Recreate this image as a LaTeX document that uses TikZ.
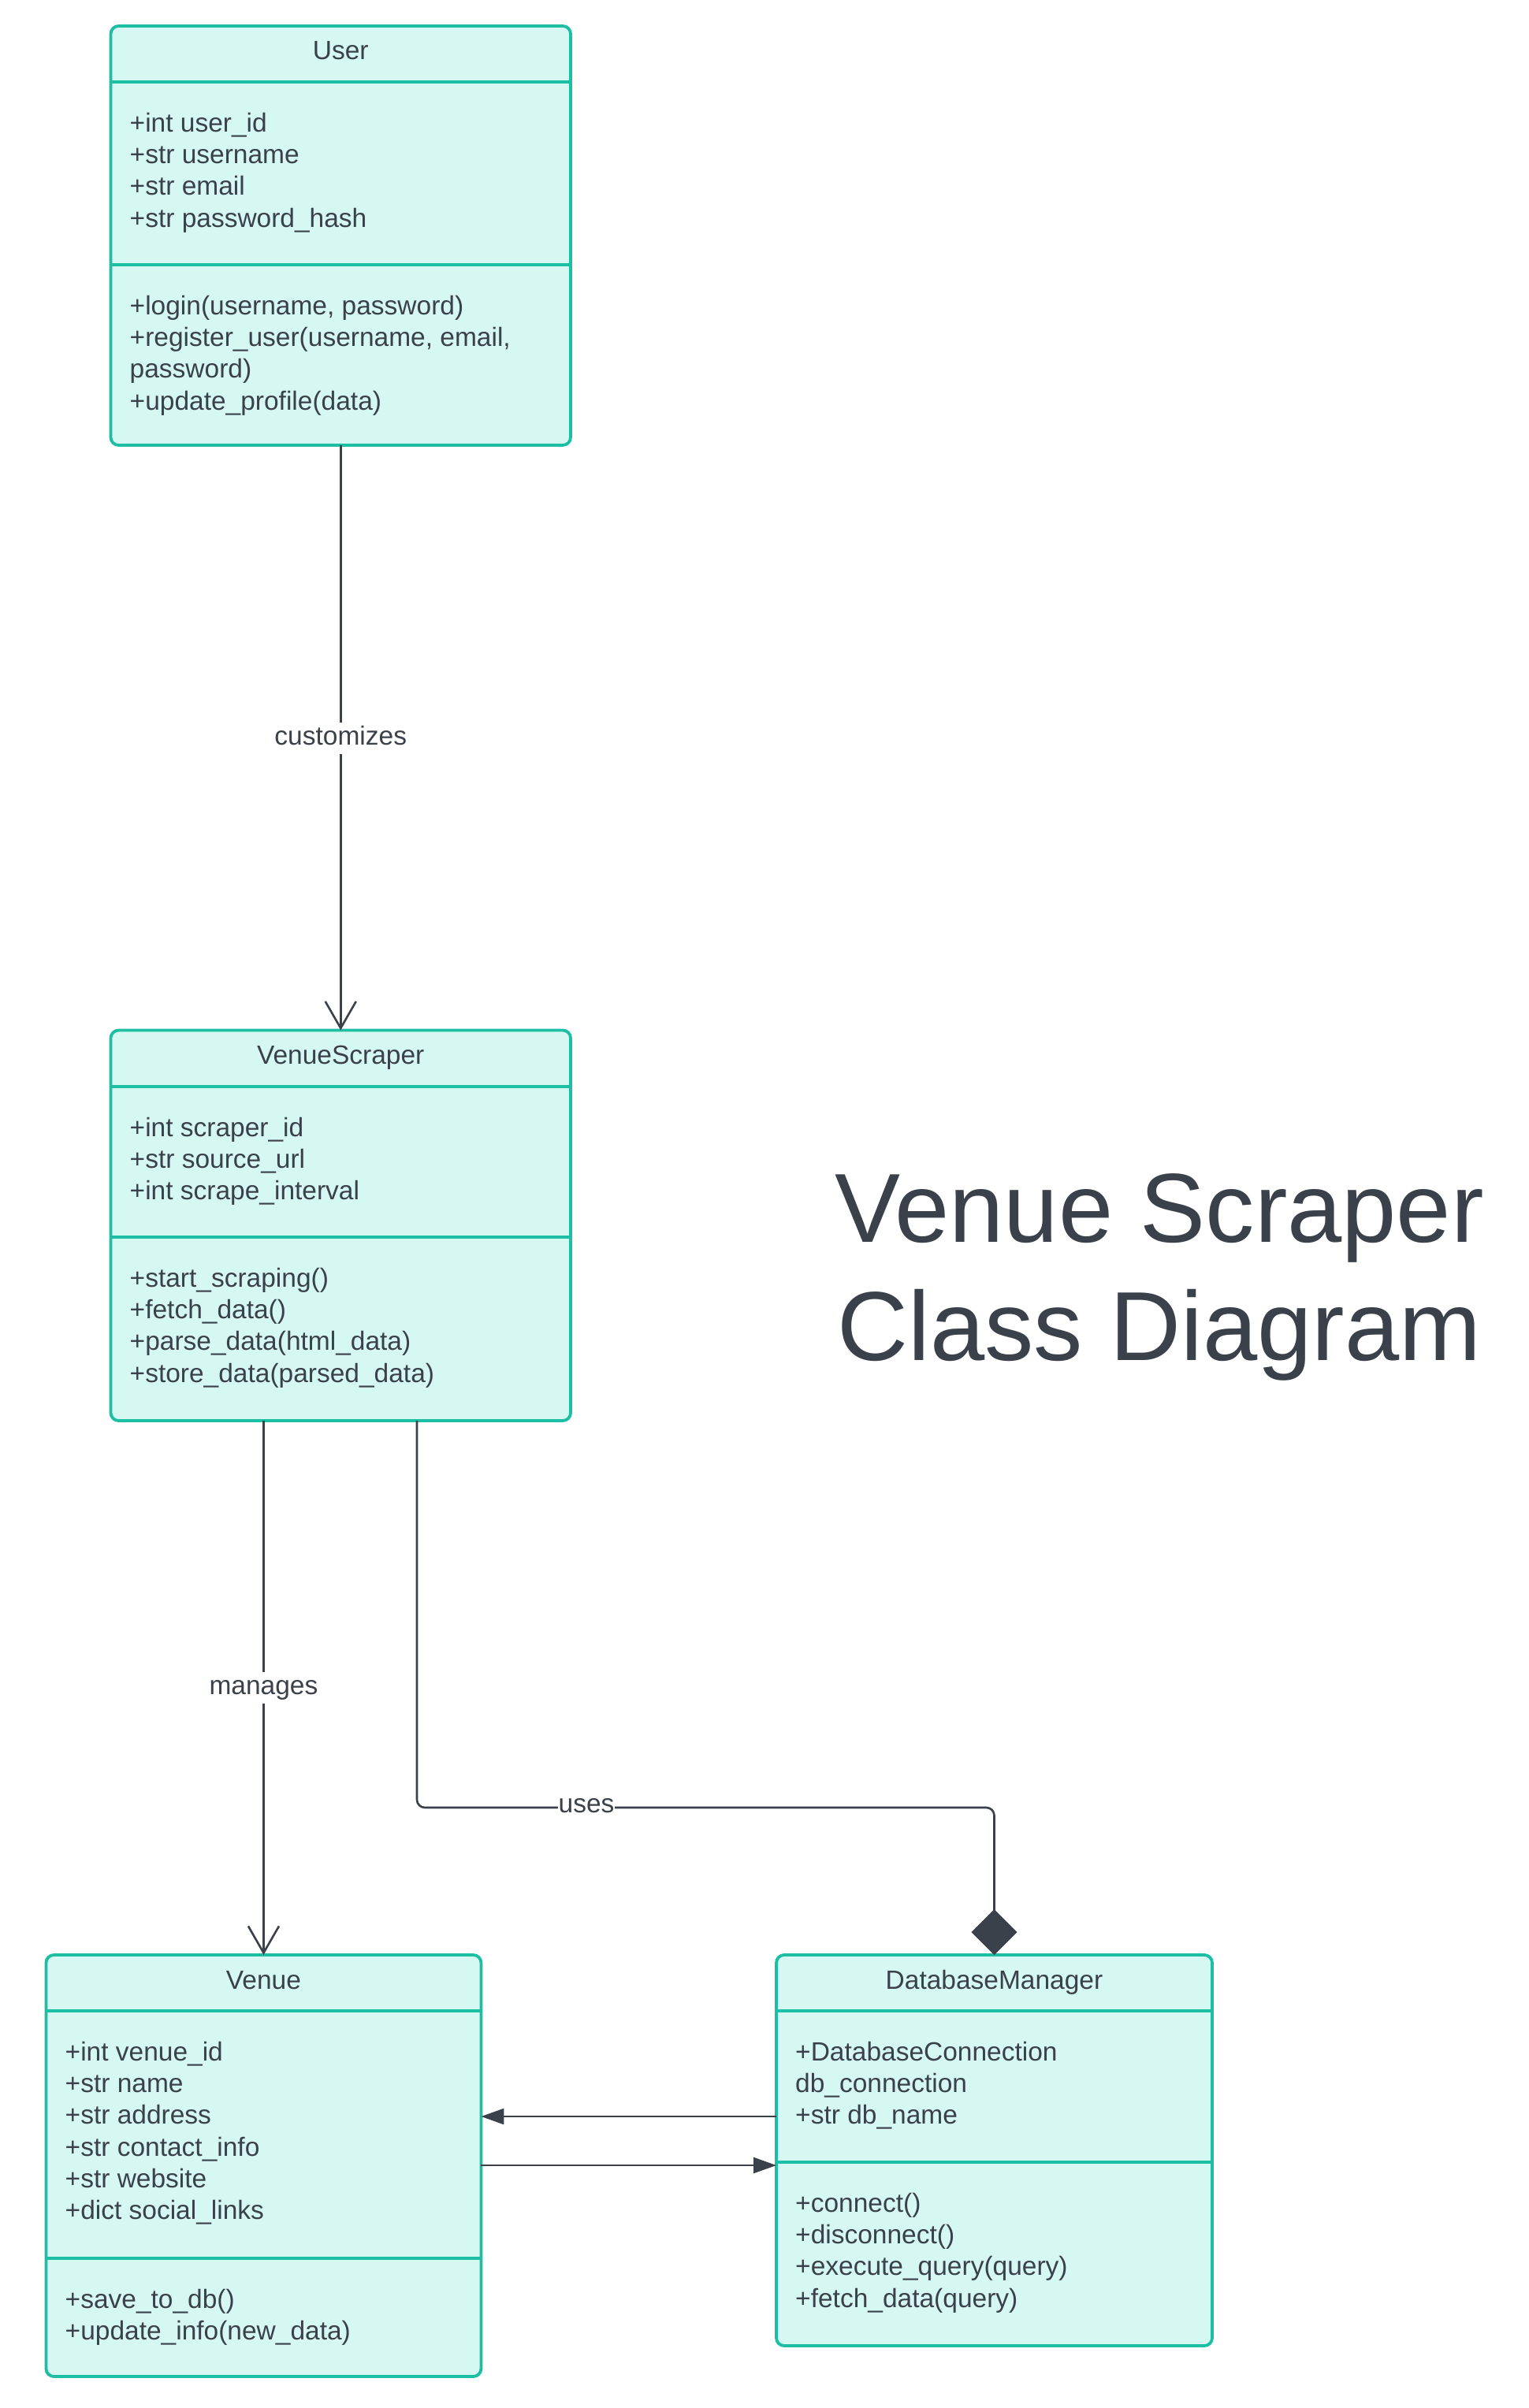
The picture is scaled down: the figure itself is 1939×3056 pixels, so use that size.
\documentclass[tikz,border=0pt]{standalone}
\usepackage{fontspec}
\setmainfont{Liberation Sans}
\usetikzlibrary{arrows.meta}
\definecolor{ink}{HTML}{3A414A}
\definecolor{tealline}{HTML}{1CBFA4}
\definecolor{mint}{HTML}{D6F8F2}
\newcommand{\umltext}[4]{%
  \foreach \entry [count=\i from 0] in {#4} {%
    \node[txt] (#1\i) at (#2, {#3+\i*40.2}) {\entry};}}
\begin{document}
\begin{tikzpicture}[x=1pt,y=-1pt,
  classbox/.style={draw=tealline, fill=mint, line width=3.8pt, rounded corners=10pt,
    inner sep=0pt, outer sep=0pt},
  divider/.style={draw=tealline, line width=3.8pt},
  txt/.style={text=ink, font=\fontsize{33.5}{40}\selectfont, inner sep=0pt, anchor=base west},
  ctitle/.style={text=ink, font=\fontsize{33.5}{40}\selectfont, inner sep=0pt, anchor=base},
  bigtitle/.style={text=ink, font=\fontsize{124.5}{150}\selectfont, inner sep=0pt, anchor=base},
  conn/.style={draw=ink, line width=2.6pt},
  lbl/.style={fill=white, text=ink, font=\fontsize{33.5}{40}\selectfont, inner xsep=1pt,
    inner ysep=0pt, text height=28pt, text depth=12pt, anchor=base},
  openarrow/.style={-{Straight Barb[length=34pt,width=39pt]}},
  filledarrow/.style={-{Triangle[length=29pt,width=20pt]}},
  composition/.style={-{Diamond[length=58pt,width=58pt]}}
]
\fill[white] (0,0) rectangle (1939,3056);
\useasboundingbox (0,0) rectangle (1939,3056);

% ---------- User ----------
\node[classbox, minimum width=583.5pt, minimum height=532pt] (user) at (432.25,299) {};
\draw[divider] (140.5,104) -- (724,104);
\draw[divider] (140.5,336) -- (724,336);
\node[ctitle] (usertitle) at (432.25,76) {User};
\umltext{ua}{164.5}{167.5}{+int user\_id, +str username, +str email, +str password\_hash}
\umltext{um}{164.5}{399.5}{{+login(username, password)}, {+register\_user(username, email,}, password), +update\_profile(data)}

% ---------- VenueScraper ----------
\node[classbox, minimum width=583.5pt, minimum height=495.5pt] (vs) at (432.25,1555.25) {};
\draw[divider] (140.5,1379) -- (724,1379);
\draw[divider] (140.5,1570) -- (724,1570);
\node[ctitle] (vstitle) at (432.25,1350.5) {VenueScraper};
\umltext{va}{164.5}{1442.5}{+int scraper\_id, +str source\_url, +int scrape\_interval}
\umltext{vm}{164.5}{1633.5}{+start\_scraping(), +fetch\_data(), +parse\_data(html\_data), +store\_data(parsed\_data)}

% ---------- Venue ----------
\node[classbox, minimum width=552pt, minimum height=535pt] (venue) at (334.45,2748.5) {};
\draw[divider] (58.45,2552) -- (610.45,2552);
\draw[divider] (58.45,2866) -- (610.45,2866);
\node[ctitle] (venuetitle) at (334.45,2524) {Venue};
\umltext{na}{82.5}{2615.5}{+int venue\_id, +str name, +str address, +str contact\_info, +str website, +dict social\_links}
\umltext{nm}{82.5}{2929.5}{+save\_to\_db(), +update\_info(new\_data)}

% ---------- DatabaseManager ----------
\node[classbox, minimum width=553pt, minimum height=496pt] (db) at (1261.5,2729) {};
\draw[divider] (985,2552) -- (1538,2552);
\draw[divider] (985,2744) -- (1538,2744);
\node[ctitle] (dbtitle) at (1261.5,2524) {DatabaseManager};
\umltext{da}{1009}{2615.5}{+DatabaseConnection, db\_connection, +str db\_name}
\umltext{dm}{1009}{2807.5}{+connect(), +disconnect(), +execute\_query(query), +fetch\_data(query)}

% ---------- Title ----------
\node[bigtitle] (title1) at (1471,1576.7) {Venue Scraper};
\node[bigtitle] (title2) at (1471,1726.7) {Class Diagram};

% ---------- Connectors ----------
\draw[conn, openarrow] (user.south) -- (vs.north);
\node[lbl] (lcust) at (432.25,945) {customizes};

\draw[conn, openarrow] (vs.south -| venue.north) -- (venue.north);
\node[lbl] (lman) at (334.45,2150) {manages};

\coordinate (usesstart) at ([xshift=96.75pt]vs.south);
\coordinate (useslevel) at (0,2294);
\draw[conn, rounded corners=10pt, composition]
  (usesstart) -- (usesstart |- useslevel) -- (db.north |- useslevel) -- (db.north);
\node[lbl] (luses) at (744,2300) {uses};

\coordinate (rowA) at (0,2686);
\coordinate (rowB) at (0,2748);
\draw[conn, filledarrow] (db.west |- rowA) -- (venue.east |- rowA);
\draw[conn, filledarrow] (venue.east |- rowB) -- (db.west |- rowB);
\end{tikzpicture}
\end{document}
